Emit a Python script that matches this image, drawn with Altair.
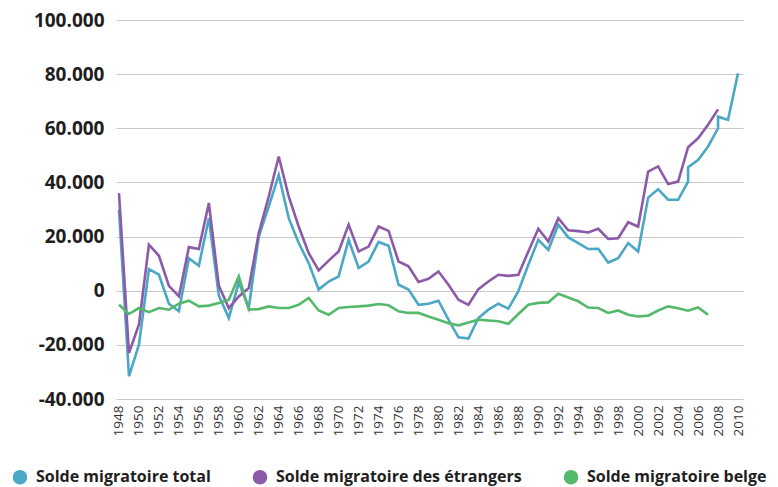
import altair as alt
import pandas as pd

# Solde migratoire total (teal) - duplicate years mark series breaks
total_years = list(range(1948, 2006)) + [2005, 2006, 2007, 2008, 2008, 2009, 2010]
total_values = [
    29900, -31600, -19900, 8000, 5900, -4800, -7600, 12000, 9200, 26800,
    -1800, -10100, 3100, -6400, 20000, 31100, 42800, 26800, 17600, 10200,
    400, 3400, 5300, 18800, 8400, 10800, 18000, 16600, 2200, 400,
    -5200, -4800, -3700, -10700, -17200, -17700, -10100, -7000, -4800, -6600,
    -200, 9600, 18800, 15100, 24400, 19700, 17600, 15400, 15500, 10400,
    12000, 17600, 14500, 34400, 37500, 33600, 33600, 40300,
    45600, 48300, 53300, 60000, 64300, 63100, 80300,
]

etr_years = list(range(1948, 2009))
etr_values = [
    36000, -23000, -12500, 17000, 12900, 1800, -2100, 16100, 15400, 32400,
    1800, -6400, -2100, 1000, 21300, 34800, 49600, 34800, 23700, 13900,
    7500, 11100, 14500, 24400, 14500, 16300, 23700, 22100, 10800, 9000,
    3200, 4400, 7100, 2200, -3300, -5200, 600, 3400, 5900, 5500,
    5900, 14500, 22900, 18200, 26800, 22300, 22000, 21500, 22900, 19100,
    19400, 25300, 23700, 44000, 45900, 39400, 40300, 53000, 56300, 61300,
    67000,
]

bel_years = list(range(1948, 2008))
bel_values = [
    -5200, -8600, -6400, -7900, -6400, -7000, -4800, -3700, -5800, -5500,
    -4500, -3300, 5300, -7000, -6800, -5800, -6400, -6400, -5200, -2700,
    -7300, -8900, -6400, -6000, -5800, -5500, -4900, -5400, -7600, -8200,
    -8200, -9500, -10700, -12000, -12800, -11700, -10700, -11000, -11300, -12200,
    -8600, -5200, -4500, -4300, -1100, -2500, -3900, -6200, -6400, -8200,
    -7300, -8900, -9500, -9200, -7300, -5800, -6500, -7400, -6200, -8900,
]

series_names = ["Solde migratoire total", "Solde migratoire des étrangers", "Solde migratoire belge"]
series_colors = ["#4aa7c6", "#8c5aa8", "#55b96c"]
x_ticks = list(range(1948, 2011, 2))
y_ticks = [-40000, -20000, 0, 20000, 40000, 60000, 80000, 100000]

rows = []
for name, ys, vs in zip(series_names, [total_years, etr_years, bel_years],
                        [total_values, etr_values, bel_values]):
    for i, (y, v) in enumerate(zip(ys, vs)):
        rows.append({"year": y, "value": v, "series": name, "idx": i})
df = pd.DataFrame(rows)

ylabel = ("datum.value < 0 ? '-' + replace(format(-datum.value, ','), ',', '.') : "
          "replace(format(datum.value, ','), ',', '.')")

chart = alt.Chart(df).mark_line(strokeWidth=2.6).encode(
    x=alt.X("year:Q",
            scale=alt.Scale(domain=[1947.7, 2010.5], nice=False, zero=False),
            axis=alt.Axis(values=x_ticks, format="d", labelAngle=270, grid=False,
                          domain=False, ticks=False, labelPadding=6, title=None,
                          labelFont="Open Sans", labelFontSize=13.5, labelColor="#333333")),
    y=alt.Y("value:Q",
            scale=alt.Scale(domain=[-40000, 100000], nice=False),
            axis=alt.Axis(values=y_ticks, labelExpr=ylabel, grid=True, gridColor="#c8c8c8",
                          domain=False, ticks=False, labelPadding=12, title=None,
                          labelFont="Open Sans", labelFontWeight="bold", labelFontSize=19,
                          labelColor="#1e1e1e")),
    color=alt.Color("series:N",
                    scale=alt.Scale(domain=series_names, range=series_colors),
                    legend=alt.Legend(orient="none", direction="horizontal", legendX=-104,
                                      legendY=449, title=None, symbolType="circle",
                                      symbolSize=50, symbolStrokeWidth=7.5,
                                      labelFont="Open Sans", labelFontWeight="bold",
                                      labelFontSize=16, labelColor="#1e1e1e", labelLimit=0,
                                      columnPadding=30, labelOffset=8)),
    order=alt.Order("idx:Q"),
).properties(
    width=627, height=379,
    autosize=alt.AutoSizeParams(type="none"),
    padding={"left": 108, "top": 12, "right": 27, "bottom": 88},
).configure_view(stroke=None)

chart.save("out.html", embed_options={"renderer": "svg", "actions": False})
